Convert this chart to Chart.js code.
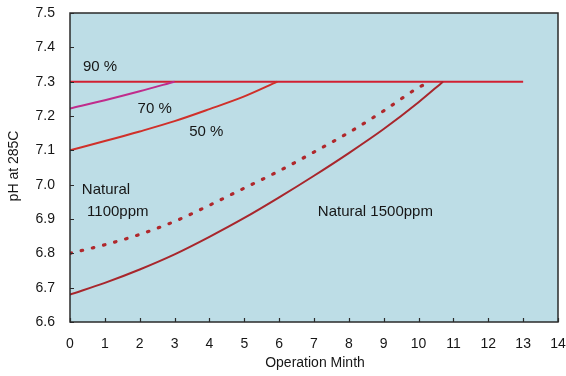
<!DOCTYPE html>
<html lang="en">
<head>
<meta charset="UTF-8">
<script src="https://cdn.jsdelivr.net/npm/chart.js"></script>
<title>pH at 285C</title>
<style>
    body { margin: 0; background: #fff; }
</style>
</head>
<body>
<canvas id="graficoPh" width="566" height="376"></canvas>
<script>
// dados (mes de operacao, pH)
const meses90 = [0, 13];
const ph90 = [7.3, 7.3];

const meses70 = [0, 1, 2, 3.0];
const ph70 = [7.222, 7.246, 7.272, 7.3];

const meses50 = [0, 1, 2, 3, 4, 5, 5.95];
const ph50 = [7.10, 7.127, 7.155, 7.185, 7.22, 7.257, 7.3];

const meses1100 = [0, 1, 2, 3, 4, 5, 6, 7, 8, 9, 10, 10.35];
const ph1100 = [6.80, 6.825, 6.855, 6.893, 6.94, 6.99, 7.04, 7.095, 7.152, 7.215, 7.283, 7.3];

const meses1500 = [0, 1, 2, 3, 4, 5, 6, 7, 8, 9, 10, 10.7];
const ph1500 = [6.68, 6.714, 6.753, 6.797, 6.848, 6.903, 6.963, 7.026, 7.092, 7.162, 7.24, 7.3];

const ticksY = [6.6, 6.7, 6.8, 6.9, 7.0, 7.1, 7.2, 7.3, 7.4, 7.5];
const ticksX = [0, 1, 2, 3, 4, 5, 6, 7, 8, 9, 10, 11, 12, 13, 14];

// textos dentro do grafico
const rotulos = [
    { texto: '90 %', x: 0.86, y: 7.343, alinha: 'center' },
    { texto: '70 %', x: 2.43, y: 7.22, alinha: 'center' },
    { texto: '50 %', x: 3.91, y: 7.153, alinha: 'center' },
    { texto: 'Natural', x: 0.34, y: 6.984, alinha: 'left' },
    { texto: '1100ppm', x: 0.49, y: 6.92, alinha: 'left' },
    { texto: 'Natural 1500ppm', x: 7.11, y: 6.92, alinha: 'left' }
];

function pontos(xs, ys) {
    return xs.map(function (x, i) { return { x: x, y: ys[i] }; });
}

const fonte = 'Liberation Sans, Arial, sans-serif';
const corTexto = '#161616';

const moldura = {
    id: 'moldura',
    beforeDatasetsDraw(chart) {
        const { ctx, chartArea: a } = chart;
        ctx.save();
        ctx.fillStyle = '#bddde6';
        ctx.fillRect(a.left, a.top, a.right - a.left, a.bottom - a.top);
        ctx.restore();
    },
    afterDraw(chart) {
        const { ctx, chartArea: a } = chart;
        const sx = chart.scales.x, sy = chart.scales.y;
        ctx.save();
        ctx.strokeStyle = '#2a2a2a';
        ctx.lineWidth = 1.5;
        ctx.strokeRect(a.left, a.top, a.right - a.left, a.bottom - a.top);

        // marcas para dentro
        ctx.lineWidth = 1.2;
        ctx.beginPath();
        ticksY.forEach(function (v) {
            const py = Math.round(sy.getPixelForValue(v)) + 0.5;
            ctx.moveTo(a.left, py);
            ctx.lineTo(a.left + 4, py);
        });
        ticksX.forEach(function (v) {
            const px = Math.round(sx.getPixelForValue(v)) + 0.5;
            ctx.moveTo(px, a.bottom);
            ctx.lineTo(px, a.bottom - 4);
        });
        ctx.stroke();

        ctx.fillStyle = corTexto;
        ctx.textBaseline = 'middle';
        ctx.font = '15px ' + fonte;
        rotulos.forEach(function (r) {
            ctx.textAlign = r.alinha;
            ctx.fillText(r.texto, sx.getPixelForValue(r.x), sy.getPixelForValue(r.y));
        });

        // titulos dos eixos
        ctx.font = '14px ' + fonte;
        ctx.textAlign = 'center';
        ctx.fillText('Operation Minth', (a.left + a.right) / 2 + 1, 363);
        ctx.translate(14, 166);
        ctx.rotate(-Math.PI / 2);
        ctx.fillText('pH at 285C', 0, 0);
        ctx.restore();
    }
};

const estiloLinha = {
    fill: false,
    pointRadius: 0,
    borderWidth: 2,
    cubicInterpolationMode: 'monotone'
};

const dados = {
    datasets: [
        Object.assign({ label: 'Natural 1500ppm', data: pontos(meses1500, ph1500), borderColor: '#a8262c' }, estiloLinha),
        Object.assign({ label: 'Natural 1100ppm', data: pontos(meses1100, ph1100), borderColor: '#b0282c',
            borderDash: [1.5, 10], borderCapStyle: 'round' }, estiloLinha, { borderWidth: 3.2 }),
        Object.assign({ label: '50 %', data: pontos(meses50, ph50), borderColor: '#d0302a' }, estiloLinha),
        Object.assign({ label: '70 %', data: pontos(meses70, ph70), borderColor: '#c02c8c' }, estiloLinha),
        Object.assign({ label: '90 %', data: pontos(meses90, ph90), borderColor: '#d22032' }, estiloLinha)
    ]
};

const config = {
    type: 'line',
    data: dados,
    options: {
        responsive: false,
        animation: false,
        devicePixelRatio: 1,
        layout: { padding: { top: 13, right: 8, left: 0, bottom: 0 } },
        plugins: { legend: { display: false }, tooltip: { enabled: false } },
        scales: {
            x: {
                type: 'linear',
                min: 0,
                max: 14,
                afterFit: function (s) {
                    s.height = 54;
                    s.paddingLeft = 0;
                    s.paddingRight = 0;
                },
                afterBuildTicks: function (s) { s.ticks = ticksX.map(function (v) { return { value: v }; }); },
                grid: { display: false, drawTicks: false },
                border: { display: false },
                ticks: { color: corTexto, padding: 14, font: { family: fonte, size: 14 } }
            },
            y: {
                type: 'linear',
                min: 6.6,
                max: 7.5,
                afterFit: function (s) {
                    s.width = 70;
                    s.paddingTop = 0;
                    s.paddingBottom = 0;
                },
                afterBuildTicks: function (s) { s.ticks = ticksY.map(function (v) { return { value: v }; }); },
                grid: { display: false, drawTicks: false },
                border: { display: false },
                ticks: {
                    color: corTexto,
                    padding: 15,
                    font: { family: fonte, size: 14 },
                    callback: function (v) { return Number(v).toFixed(1); }
                }
            }
        }
    },
    plugins: [moldura]
};

const grafico = new Chart(document.getElementById('graficoPh'), config);
</script>
</body>
</html>
